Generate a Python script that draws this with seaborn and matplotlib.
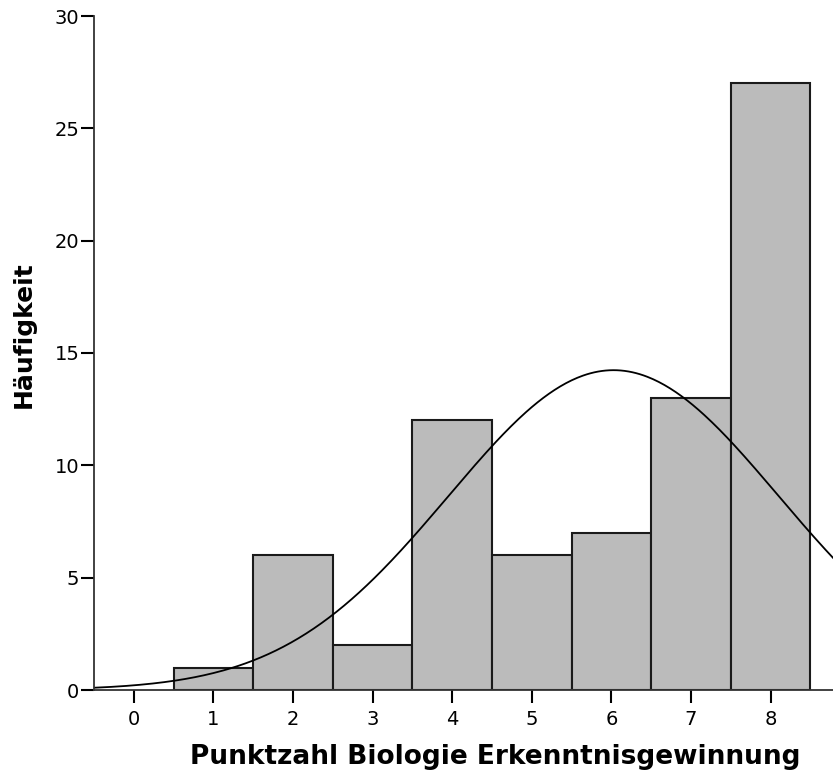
import numpy as np
import pandas as pd
import matplotlib
matplotlib.use("Agg")
import matplotlib.pyplot as plt
import seaborn as sns

# Score distribution (points 1..8) and their frequencies
scores = [1, 2, 3, 4, 5, 6, 7, 8]
counts = [1, 6, 2, 12, 6, 7, 13, 27]
x_ticks = [0, 1, 2, 3, 4, 5, 6, 7, 8]
y_ticks = [0, 5, 10, 15, 20, 25, 30]
x_label = "Punktzahl Biologie Erkenntnisgewinnung"
y_label = "Häufigkeit"

sns.set_theme(style="white")
plt.rcParams["font.family"] = ["DejaVu Sans"]
plt.rcParams["text.color"] = "black"
plt.rcParams["xtick.color"] = "black"
plt.rcParams["ytick.color"] = "black"

df = pd.DataFrame({"score": scores, "n": counts})

W, H = 833, 778
fig = plt.figure(figsize=(W / 100, H / 100), dpi=100)
# axes frame in pixel terms: left 94, bottom 690, top 16; x unit ~79.6 px
unit = 79.6
x0, x1 = -0.5, 9.0
left_px, top_px, bottom_px = 94, 16, 690
ax = fig.add_axes([left_px / W, 1 - bottom_px / H,
                   (x1 - x0) * unit / W, (bottom_px - top_px) / H])

sns.histplot(data=df, x="score", weights="n", discrete=True, ax=ax,
             color="#bbbbbb", edgecolor="#1a1a1a", linewidth=1.5, alpha=1.0)

# normal curve fitted to the scores, scaled to counts (bin width 1)
vals = np.repeat(scores, counts)
mu, sd = vals.mean(), vals.std(ddof=1)
n = len(vals)
xs = np.linspace(x0, x1, 400)
ys = n / (sd * np.sqrt(2 * np.pi)) * np.exp(-0.5 * ((xs - mu) / sd) ** 2)
sns.lineplot(x=xs, y=ys, ax=ax, color="black", linewidth=1.3)

ax.set_xlim(x0, x1)
ax.set_ylim(0, 30)
ax.set_xticks(x_ticks)
ax.set_yticks(y_ticks)
ax.tick_params(axis="both", which="major", labelsize=14, color="black",
               length=9.5, width=1.5, direction="out", bottom=True, left=True,
               labelcolor="black")
ax.tick_params(axis="y", pad=1)
ax.tick_params(axis="x", pad=5)

for side in ["top", "right"]:
    ax.spines[side].set_visible(False)
for side in ["left", "bottom"]:
    ax.spines[side].set_color("#333333")
    ax.spines[side].set_linewidth(1.3)

ax.set_xlabel("")
ax.set_ylabel("")
fig.text(495 / W, 1 - 757 / H, x_label, fontsize=19, fontweight="bold",
         ha="center", va="center", color="black")
fig.text(24 / W, 1 - 335 / H, y_label, fontsize=18, fontweight="bold",
         rotation=90, ha="center", va="center", color="black")

fig.savefig("out.png", dpi=100)
